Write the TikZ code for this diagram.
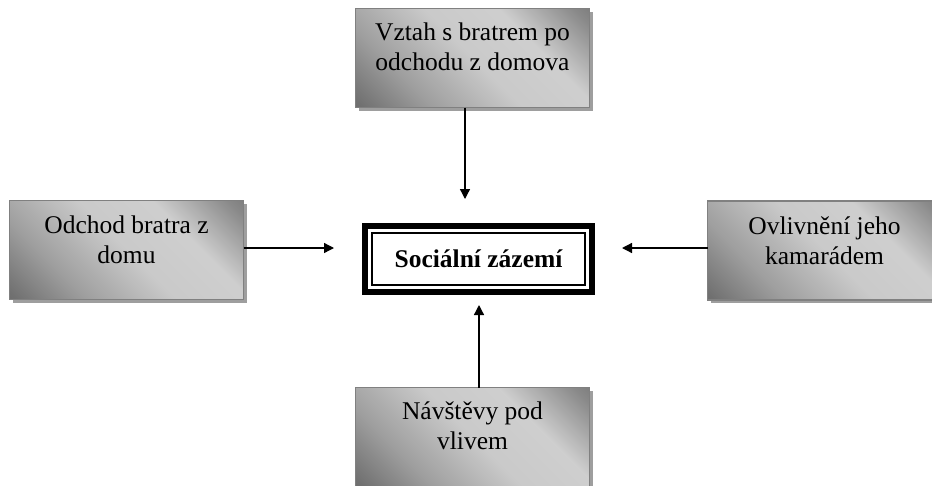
\documentclass[tikz,border=0pt]{standalone}
\usepackage{fontspec}
\setmainfont{Liberation Serif}
\usetikzlibrary{shadows,arrows.meta}
\pgfdeclareverticalshading{boxgrad}{100bp}{color(0bp)=(black!64); color(16bp)=(black!56); color(31bp)=(black!38); color(50bp)=(black!21); color(66bp)=(black!19); color(82bp)=(black!46); color(100bp)=(black!68)}
\tikzset{
 grad/.style={draw=black!50, line width=1.2pt, minimum width=234pt, minimum height=99pt,
   inner sep=0pt, outer sep=0pt,
   shading=boxgrad, shading angle=-45,
   drop shadow={shadow xshift=3pt, shadow yshift=-3pt, fill=black!38, opacity=1}},
 lbl/.style={font=\fontsize{25.5}{30}\selectfont, align=center, inner sep=0pt, anchor=north},
 centerbox/.style={draw, line width=6pt, minimum width=227pt, minimum height=66pt, inner sep=0pt,
   outer sep=0pt, font=\fontsize{25.5}{30}\selectfont\bfseries},
 arr/.style={line width=1.3pt, -{Triangle[length=10pt,width=10pt]}},
}
\begin{document}
\begin{tikzpicture}[x=1pt,y=-1pt]
\useasboundingbox (0,0) rectangle (932,485);
% boxes
\node[grad] (ntop) at (472.5,58) {};
\node[lbl] (ntopt) at ([yshift=-11pt]ntop.north) {\strut Vztah s bratrem po\\ \strut odchodu z domova};
\node[grad] (nleft) at (126.5,250) {};
\node[lbl] (nleftt) at ([yshift=-12pt]nleft.north) {\strut Odchod bratra z\\ \strut domu};
\node[grad] (nright) at (824.5,250.5) {};
\node[lbl] (nrightt) at ([yshift=-12pt]nright.north) {\strut Ovlivnění jeho\\ \strut kamarádem};
\node[grad] (nbot) at (472.5,437) {};
\node[lbl] (nbott) at ([yshift=-11pt]nbot.north) {\strut Návštěvy pod\\ \strut vlivem};
% center
\node[centerbox] (c) at (478.5,259) {Sociální zázemí};
\draw[line width=1.5pt] ([xshift=7pt,yshift=-7pt]c.north west) rectangle ([xshift=-7pt,yshift=7pt]c.south east);
% arrows
\coordinate (tipT) at (465,199);
\coordinate (tipL) at (334,248);
\coordinate (tipR) at (622,248);
\coordinate (tipB) at (479,305);
\draw[arr] (ntop.south -| tipT) -- (tipT);
\draw[arr] (nleft.east |- tipL) -- (tipL);
\draw[arr] (nright.west |- tipR) -- (tipR);
\draw[arr] (nbot.north -| tipB) -- (tipB);
\end{tikzpicture}
\end{document}
